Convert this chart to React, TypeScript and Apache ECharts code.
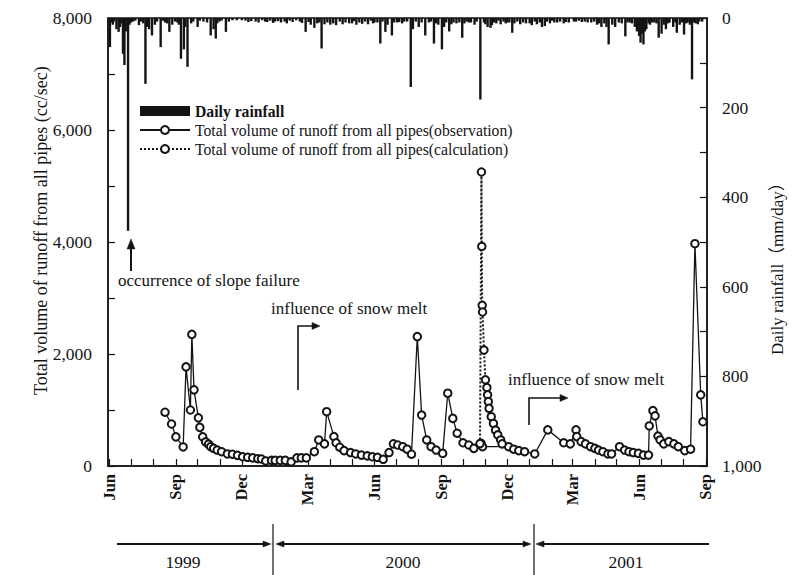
import React, { useEffect, useRef } from 'react';
import * as echarts from 'echarts';

const MONTH_NAMES = ['Jan', 'Feb', 'Mar', 'Apr', 'May', 'Jun', 'Jul', 'Aug', 'Sep', 'Oct', 'Nov', 'Dec'];
const LABEL_MONTHS = [2, 5, 8, 11];
const X_MIN = '1999-06-01';
const X_MAX = '2001-09-01';

const LEFT_TICKS = [0, 2000, 4000, 6000, 8000];
const RIGHT_TICKS = [0, 200, 400, 600, 800, 1000];

const NAME_RAIN = 'Daily rainfall';
const NAME_OBS = 'Total volume of runoff from all pipes(observation)';
const NAME_CALC = 'Total volume of runoff from all pipes(calculation)';

const YEARS = ['1999', '2000', '2001'];

const obsDates = [
  '1999-08-17', '1999-08-26', '1999-09-01', '1999-09-11', '1999-09-15', '1999-09-21', '1999-09-23', '1999-09-26',
  '1999-10-02', '1999-10-04', '1999-10-08', '1999-10-12', '1999-10-16', '1999-10-19', '1999-10-23', '1999-10-28',
  '1999-11-03', '1999-11-11', '1999-11-18', '1999-11-25', '1999-12-02', '1999-12-09', '1999-12-16', '1999-12-23',
  '1999-12-28', '2000-01-03', '2000-01-11', '2000-01-16', '2000-01-23', '2000-01-30', '2000-02-07', '2000-02-15',
  '2000-02-21', '2000-02-28', '2000-03-10', '2000-03-16', '2000-03-24', '2000-03-27', '2000-04-06', '2000-04-09',
  '2000-04-14', '2000-04-20', '2000-04-29', '2000-05-06', '2000-05-14', '2000-05-22', '2000-05-29', '2000-06-05',
  '2000-06-13', '2000-06-21', '2000-06-27', '2000-07-03', '2000-07-10', '2000-07-16', '2000-07-22', '2000-07-30',
  '2000-08-05', '2000-08-12', '2000-08-18', '2000-08-25', '2000-09-03', '2000-09-10', '2000-09-17', '2000-09-23',
  '2000-10-01', '2000-10-09', '2000-10-16', '2000-10-26', '2000-10-28', '2000-12-03', '2000-12-10', '2000-12-17',
  '2000-12-25', '2001-01-08', '2001-01-26', '2001-02-17', '2001-02-26', '2001-03-06', '2001-03-07', '2001-03-13',
  '2001-03-19', '2001-03-26', '2001-04-01', '2001-04-06', '2001-04-12', '2001-04-19', '2001-04-24', '2001-05-05',
  '2001-05-12', '2001-05-18', '2001-05-24', '2001-05-31', '2001-06-07', '2001-06-14', '2001-06-15', '2001-06-20',
  '2001-06-23', '2001-06-27', '2001-06-30', '2001-07-05', '2001-07-12', '2001-07-19', '2001-07-25', '2001-08-03',
  '2001-08-11', '2001-08-17', '2001-08-25', '2001-08-28',
];
const obsValues = [
  960, 750, 520, 340, 1770, 1000, 2350, 1360,
  860, 690, 520, 430, 390, 345, 315, 285,
  255, 215, 210, 190, 165, 155, 145, 130,
  125, 90, 100, 100, 100, 100, 75, 145,
  145, 145, 255, 465, 395, 970, 525, 415,
  335, 275, 240, 215, 195, 180, 165, 155,
  120, 240, 395, 375, 345, 300, 210, 2310,
  910, 465, 345, 285, 225, 1300, 850, 585,
  415, 375, 315, 405, 345, 345, 300, 275,
  255, 215, 645, 415, 395, 645, 525, 435,
  395, 345, 315, 285, 255, 215, 215, 345,
  285, 255, 240, 225, 195, 195, 715, 990,
  895, 535, 465, 395, 435, 395, 345, 275,
  300, 3970, 1270, 790,
];

const calcDates = [
  '2000-10-24 12:00', '2000-10-26 12:00', '2000-10-27 00:00', '2000-10-27 12:00', '2000-10-28 00:00',
  '2000-10-30', '2000-11-01', '2000-11-03', '2000-11-04', '2000-11-05', '2000-11-06', '2000-11-09',
  '2000-11-12', '2000-11-15', '2000-11-18', '2000-11-22', '2000-11-24',
];
const calcValues = [400, 5250, 3920, 2870, 2750, 2070, 1540, 1400, 1270, 1150, 1030, 880, 760, 640, 555, 465, 395];

// larger daily rainfall events
const rainDates = [
  '1999-06-02', '1999-06-06', '1999-06-11', '1999-06-14', '1999-06-16', '1999-06-20', '1999-06-22', '1999-06-27',
  '1999-06-29', '1999-07-04', '1999-07-12', '1999-07-21', '1999-07-26', '1999-07-30', '1999-08-03', '1999-08-11',
  '1999-08-17', '1999-08-23', '1999-08-27', '1999-09-03', '1999-09-08', '1999-09-12', '1999-09-17', '1999-09-22',
  '1999-10-01', '1999-10-09', '1999-10-19', '1999-10-23', '1999-10-26', '1999-10-31', '1999-11-09', '1999-11-18',
  '1999-12-06', '1999-12-20', '1999-12-29', '2000-01-09', '2000-01-20', '2000-01-29', '2000-02-05', '2000-02-14',
  '2000-02-19', '2000-02-27', '2000-03-05', '2000-03-10', '2000-03-14', '2000-03-20', '2000-03-28', '2000-04-01',
  '2000-04-05', '2000-04-14', '2000-04-22', '2000-04-27', '2000-05-04', '2000-05-11', '2000-05-19', '2000-05-27',
  '2000-06-01', '2000-06-09', '2000-06-16', '2000-06-19', '2000-06-25', '2000-07-02', '2000-07-09', '2000-07-16',
  '2000-07-21', '2000-07-24', '2000-08-01', '2000-08-10', '2000-08-15', '2000-08-22', '2000-08-28', '2000-09-02',
  '2000-09-05', '2000-09-12', '2000-09-18', '2000-09-22', '2000-09-30', '2000-10-06', '2000-10-12', '2000-10-17',
  '2000-10-25', '2000-10-30', '2000-11-04', '2000-11-08', '2000-11-13', '2000-11-19', '2000-11-26', '2000-12-01',
  '2000-12-08', '2000-12-15', '2000-12-23', '2001-01-01', '2001-01-08', '2001-01-15', '2001-01-18', '2001-01-25',
  '2001-02-01', '2001-02-08', '2001-02-17', '2001-02-24', '2001-03-03', '2001-03-10', '2001-03-18', '2001-03-27',
  '2001-04-04', '2001-04-10', '2001-04-14', '2001-04-20', '2001-04-25', '2001-04-29', '2001-05-04', '2001-05-13',
  '2001-05-19', '2001-05-26', '2001-06-01', '2001-06-03', '2001-06-07', '2001-06-11', '2001-06-16', '2001-06-22',
  '2001-06-28', '2001-07-02', '2001-07-08', '2001-07-13', '2001-07-18', '2001-07-23', '2001-07-27', '2001-08-02',
  '2001-08-07', '2001-08-13', '2001-08-18', '2001-08-23',
];
const rainValues = [
  65, 15, 25, 31, 20, 80, 105, 475,
  15, 8, 16, 147, 25, 39, 15, 65,
  10, 31, 15, 10, 91, 70, 109, 12,
  20, 8, 39, 25, 46, 8, 31, 5,
  6, 8, 5, 6, 7, 8, 6, 5,
  8, 31, 15, 22, 12, 68, 10, 15,
  12, 8, 10, 12, 7, 10, 8, 6,
  10, 57, 31, 15, 39, 10, 12, 8,
  154, 25, 20, 39, 10, 57, 15, 70,
  20, 30, 10, 12, 44, 8, 10, 15,
  182, 10, 20, 22, 10, 6, 8, 10,
  33, 8, 10, 12, 8, 10, 20, 8,
  6, 10, 12, 10, 8, 6, 8, 10,
  15, 20, 12, 59, 15, 20, 10, 41,
  10, 20, 40, 55, 59, 25, 15, 10,
  44, 35, 25, 10, 20, 33, 15, 37,
  10, 137, 12, 8,
];

// light rain days forming the dense band along the top
const lightRainDates = [
  '1999-06-04', '1999-06-08', '1999-06-18', '1999-06-24', '1999-07-01', '1999-07-07', '1999-07-15', '1999-07-18',
  '1999-07-23', '1999-08-06', '1999-08-14', '1999-08-20', '1999-08-31', '1999-09-05', '1999-09-14', '1999-09-25',
  '1999-10-04', '1999-10-14', '1999-10-28', '1999-11-03', '1999-11-13', '1999-11-24', '1999-12-01', '1999-12-10',
  '1999-12-14', '1999-12-24', '2000-01-02', '2000-01-05', '2000-01-13', '2000-01-16', '2000-01-24', '2000-02-01',
  '2000-02-09', '2000-02-22', '2000-03-02', '2000-03-17', '2000-03-24', '2000-04-09', '2000-04-18', '2000-05-01',
  '2000-05-07', '2000-05-15', '2000-05-23', '2000-05-30', '2000-06-05', '2000-06-12', '2000-06-28', '2000-07-05',
  '2000-07-12', '2000-07-28', '2000-08-05', '2000-08-18', '2000-08-25', '2000-09-08', '2000-09-15', '2000-09-26',
  '2000-10-03', '2000-10-09', '2000-10-20', '2000-11-01', '2000-11-10', '2000-11-16', '2000-11-22', '2000-11-29',
  '2000-12-04', '2000-12-11', '2000-12-19', '2000-12-27', '2001-01-04', '2001-01-11', '2001-01-22', '2001-01-29',
  '2001-02-04', '2001-02-12', '2001-02-20', '2001-03-06', '2001-03-14', '2001-03-22', '2001-03-31', '2001-04-07',
  '2001-04-17', '2001-05-08', '2001-05-16', '2001-05-22', '2001-05-29', '2001-06-05', '2001-06-09', '2001-06-14',
  '2001-06-19', '2001-06-25', '2001-07-05', '2001-07-11', '2001-07-21', '2001-07-30', '2001-08-05', '2001-08-10',
  '2001-08-16', '2001-08-21', '2001-08-27',
];
const lightRainValues = [
  10, 8, 12, 30, 10, 6, 8, 12,
  20, 8, 6, 12, 8, 15, 20, 8,
  6, 10, 12, 6, 8, 5, 5, 9,
  7, 10, 8, 9, 11, 8, 10, 12,
  9, 11, 9, 10, 14, 16, 14, 12,
  15, 13, 14, 12, 10, 8, 10, 9,
  8, 8, 10, 8, 12, 10, 14, 10,
  12, 10, 8, 14, 16, 12, 14, 12,
  10, 12, 14, 12, 16, 14, 18, 12,
  10, 8, 9, 8, 9, 10, 8, 12,
  20, 12, 10, 12, 30, 35, 30, 12,
  10, 12, 15, 12, 10, 10, 12, 15,
  10, 14, 8,
];

const SERIF = "'Liberation Serif', 'Times New Roman', serif";
const INK = '#141414';

function fmtThousands(v: number): string {
  return v.toLocaleString('en-US');
}

export default function App() {
  const ref = useRef<HTMLDivElement>(null);

  useEffect(() => {
    if (!ref.current) return;
    const chart = echarts.init(ref.current, null, { renderer: 'svg' });

    const obsData = obsDates.map((d, i) => [d, obsValues[i]]);
    const calcData = calcDates.map((d, i) => [d, calcValues[i]]);
    const rainData = rainDates
      .map((d, i) => [d, rainValues[i]])
      .concat(lightRainDates.map((d, i) => [d, lightRainValues[i]]));

    const DAY = 24 * 3600 * 1000;
    const arrowStyle = { stroke: INK, lineWidth: 1.6, fill: null };
    const headStyle = { fill: INK, stroke: INK, lineWidth: 0.5 };

    const text = (t: string, x: number, y: number, size: number, opts: any = {}) => ({
      type: 'text',
      x,
      y,
      rotation: opts.rotation || 0,
      style: {
        text: t,
        fill: INK,
        fontFamily: opts.family || SERIF,
        fontSize: size,
        fontWeight: opts.weight || 'normal',
        align: opts.align || 'left',
        textAlign: opts.align || 'left',
        verticalAlign: 'middle',
        textVerticalAlign: 'middle',
      },
    });

    const option: any = {
      animation: false,
      backgroundColor: '#ffffff',
      textStyle: { fontFamily: SERIF },
      grid: {
        left: 108,
        right: 89,
        top: 18,
        bottom: 109,
        show: true,
        borderColor: INK,
        borderWidth: 1.5,
        backgroundColor: 'transparent',
      },
      legend: {
        orient: 'vertical',
        left: 134,
        top: 98,
        itemWidth: 50,
        itemHeight: 10,
        itemGap: 3,
        selectedMode: false,
        textStyle: { fontFamily: SERIF, fontSize: 15.7, color: INK },
        data: [
          { name: NAME_RAIN, icon: 'rect', textStyle: { fontWeight: 'bold' } },
          { name: NAME_OBS },
          { name: NAME_CALC },
        ],
      },
      xAxis: {
        type: 'time',
        min: X_MIN,
        max: X_MAX,
        minInterval: 28 * DAY,
        maxInterval: 31 * DAY,
        axisLine: { show: true, lineStyle: { color: INK, width: 1.5 } },
        axisTick: { show: true, inside: true, length: 7, lineStyle: { color: INK, width: 1.2 } },
        splitLine: { show: false },
        axisLabel: {
          rotate: 90,
          margin: 8,
          color: INK,
          fontFamily: SERIF,
          fontSize: 16.5,
          fontWeight: 'bold',
          hideOverlap: false,
          formatter: (value: number) => {
            const d = new Date(value);
            const m = d.getMonth();
            return d.getDate() === 1 && LABEL_MONTHS.includes(m) ? MONTH_NAMES[m] : '';
          },
        },
      },
      yAxis: [
        {
          type: 'value',
          position: 'left',
          min: LEFT_TICKS[0],
          max: LEFT_TICKS[LEFT_TICKS.length - 1],
          interval: LEFT_TICKS[1] - LEFT_TICKS[0],
          axisLine: { show: true, lineStyle: { color: INK, width: 1.5 } },
          axisTick: { show: true, inside: true, length: 7, lineStyle: { color: INK, width: 1.2 } },
          minorTick: { show: true, splitNumber: 2, length: 7, lineStyle: { color: INK, width: 1.2 } },
          splitLine: { show: false },
          axisLabel: { color: INK, fontFamily: SERIF, fontSize: 17.5, margin: 16, formatter: fmtThousands },
        },
        {
          type: 'value',
          position: 'right',
          inverse: true,
          min: RIGHT_TICKS[0],
          max: RIGHT_TICKS[RIGHT_TICKS.length - 1],
          interval: RIGHT_TICKS[1] - RIGHT_TICKS[0],
          axisLine: { show: true, lineStyle: { color: INK, width: 1.5 } },
          axisTick: { show: true, inside: true, length: 7, lineStyle: { color: INK, width: 1.2 } },
          minorTick: { show: true, splitNumber: 2, length: 7, lineStyle: { color: INK, width: 1.2 } },
          splitLine: { show: false },
          axisLabel: { color: INK, fontFamily: SERIF, fontSize: 17.5, margin: 15, formatter: fmtThousands },
        },
      ],
      series: [
        {
          name: NAME_RAIN,
          type: 'bar',
          yAxisIndex: 1,
          barWidth: 2.4,
          barGap: '-100%',
          itemStyle: { color: INK },
          data: rainData,
          z: 1,
        },
        {
          name: NAME_OBS,
          type: 'line',
          yAxisIndex: 0,
          symbol: 'emptyCircle',
          symbolSize: 7.5,
          lineStyle: { color: INK, width: 1.3 },
          itemStyle: { color: INK, borderWidth: 1.3 },
          data: obsData,
          z: 3,
        },
        {
          name: NAME_CALC,
          type: 'line',
          yAxisIndex: 0,
          symbol: 'emptyCircle',
          symbolSize: 7.5,
          lineStyle: { color: INK, width: 2, type: 'dotted' },
          itemStyle: { color: INK, borderWidth: 1.3 },
          data: calcData,
          z: 4,
        },
      ],
      graphic: [
        // axis names
        text('Total volume of runoff from all pipes (cc/sec)', 41, 395, 18, { rotation: Math.PI / 2 }),
        text('Daily rainfall\uFF08mm/day\uFF09', 777, 355, 17, {
          rotation: Math.PI / 2,
          family: "'Liberation Serif', 'Noto Sans CJK JP', serif",
        }),
        // slope failure annotation
        { type: 'line', shape: { x1: 131, y1: 271, x2: 131, y2: 247 }, style: { stroke: INK, lineWidth: 2 } },
        { type: 'polygon', shape: { points: [[127, 249], [135, 249], [131, 239]] }, style: headStyle },
        text('occurrence of slope failure', 118, 280, 17),
        // snow melt 1
        text('influence of snow melt', 271, 308, 17),
        { type: 'polyline', shape: { points: [[298, 390], [298, 326], [313, 326]] }, style: arrowStyle },
        { type: 'polygon', shape: { points: [[312, 322.5], [312, 329.5], [320, 326]] }, style: headStyle },
        // snow melt 2
        text('influence of snow melt', 508, 379, 17),
        { type: 'polyline', shape: { points: [[529, 425], [529, 398], [561, 398]] }, style: arrowStyle },
        { type: 'polygon', shape: { points: [[560, 394.5], [560, 401.5], [568, 398]] }, style: headStyle },
        // year ranges
        { type: 'line', shape: { x1: 273, y1: 524, x2: 273, y2: 575 }, style: { stroke: INK, lineWidth: 1.2 } },
        { type: 'line', shape: { x1: 534, y1: 524, x2: 534, y2: 575 }, style: { stroke: INK, lineWidth: 1.2 } },
        { type: 'line', shape: { x1: 117, y1: 544, x2: 266, y2: 544 }, style: { stroke: INK, lineWidth: 1.8 } },
        { type: 'polygon', shape: { points: [[263, 541], [263, 547], [271, 544]] }, style: headStyle },
        { type: 'line', shape: { x1: 281, y1: 544, x2: 526, y2: 544 }, style: { stroke: INK, lineWidth: 1.8 } },
        { type: 'polygon', shape: { points: [[284, 541], [284, 547], [276, 544]] }, style: headStyle },
        { type: 'polygon', shape: { points: [[523, 541], [523, 547], [531, 544]] }, style: headStyle },
        { type: 'line', shape: { x1: 541, y1: 544, x2: 709, y2: 544 }, style: { stroke: INK, lineWidth: 1.8 } },
        { type: 'polygon', shape: { points: [[544, 541], [544, 547], [536, 544]] }, style: headStyle },
        text(YEARS[0], 183, 562, 17.5, { align: 'center' }),
        text(YEARS[1], 403, 562, 17.5, { align: 'center' }),
        text(YEARS[2], 626, 562, 17.5, { align: 'center' }),
      ],
    };

    chart.setOption(option);
    return () => chart.dispose();
  }, []);

  return (
    <div
      ref={ref}
      style={{ position: 'fixed', left: 0, top: 0, width: 796, height: 575, background: '#fff' }}
    />
  );
}
